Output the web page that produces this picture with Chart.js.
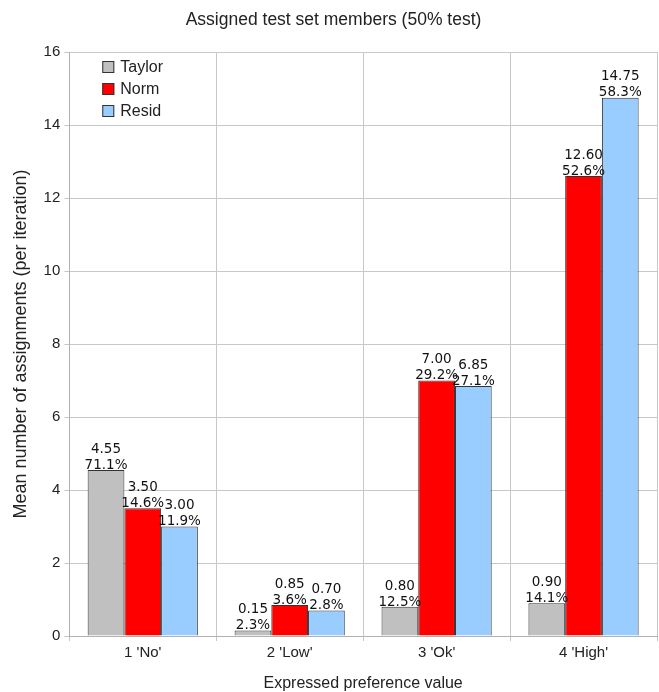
<!DOCTYPE html>
<html>
<head>
<meta charset="utf-8">
<script src="https://cdn.jsdelivr.net/npm/chart.js@4"></script>
<style>
  html, body { margin: 0; padding: 0; background: #fff; }
</style>
</head>
<body>
<canvas id="barChart" width="659" height="692"></canvas>
<script>
const categories = ["1 'No'", "2 'Low'", "3 'Ok'", "4 'High'"];
const taylor = [4.55, 0.15, 0.80, 0.90];
const norm = [3.50, 0.85, 7.00, 12.60];
const resid = [3.00, 0.70, 6.85, 14.75];
const taylorPct = [71.1, 2.3, 12.5, 14.1];
const normPct = [14.6, 3.6, 29.2, 52.6];
const residPct = [11.9, 2.8, 27.1, 58.3];

// Two-line value labels above each bar
const barLabels = {
    id: 'barLabels',
    afterDatasetsDraw(chart) {
        const c = chart.ctx;
        c.save();
        c.font = '13.5px "DejaVu Sans"';
        c.fillStyle = '#111';
        c.textAlign = 'center';
        c.textBaseline = 'bottom';
        chart.data.datasets.forEach((ds, i) => {
            chart.getDatasetMeta(i).data.forEach((bar, j) => {
                c.fillText(ds.pct[j].toFixed(1) + '%', bar.x, bar.y + 2);
                c.fillText(ds.data[j].toFixed(2), bar.x, bar.y - 14);
            });
        });
        c.restore();
    }
};

// Legend drawn inside the plot area, top-left
const innerLegend = {
    id: 'innerLegend',
    afterDraw(chart) {
        const c = chart.ctx;
        const x = chart.chartArea.left + 33;
        let y = chart.chartArea.top + 9;
        c.save();
        c.font = '16px "Liberation Sans"';
        c.textBaseline = 'middle';
        chart.data.datasets.forEach(ds => {
            c.fillStyle = ds.backgroundColor;
            c.fillRect(x, y, 12, 12);
            c.strokeStyle = '#333';
            c.lineWidth = 1;
            c.strokeRect(x + 0.5, y + 0.5, 11, 11);
            c.fillStyle = '#222';
            c.fillText(ds.label, x + 18, y + 7);
            y += 22;
        });
        c.restore();
    }
};

const ctx = document.getElementById('barChart').getContext('2d');
new Chart(ctx, {
    type: 'bar',
    data: {
        labels: categories,
        datasets: [
            { label: 'Taylor', data: taylor, pct: taylorPct, backgroundColor: '#c0c0c0' },
            { label: 'Norm', data: norm, pct: normPct, backgroundColor: '#ff0000' },
            { label: 'Resid', data: resid, pct: residPct, backgroundColor: '#99ccff' }
        ]
    },
    plugins: [barLabels, innerLegend],
    options: {
        responsive: false,
        animation: false,
        devicePixelRatio: 1,
        layout: { padding: { top: 10, right: 2, left: 10, bottom: 0 } },
        datasets: {
            bar: {
                borderColor: '#333',
                borderWidth: 1,
                categoryPercentage: 0.75,
                barPercentage: 1.0
            }
        },
        plugins: {
            legend: { display: false },
            tooltip: { enabled: false },
            title: {
                display: true,
                text: 'Assigned test set members (50% test)',
                color: '#222',
                font: { family: 'Liberation Sans', size: 17.5, weight: 'normal' },
                padding: { top: 0, bottom: 21 }
            }
        },
        scales: {
            x: {
                grid: { color: '#c8c8c8', offset: true, tickLength: 5 },
                border: { color: '#b0b0b0' },
                ticks: { color: '#222', font: { family: 'Liberation Sans', size: 15, lineHeight: 1 }, padding: 4 },
                title: {
                    display: true,
                    text: 'Expressed preference value',
                    color: '#222',
                    font: { family: 'Liberation Sans', size: 16, lineHeight: 1 },
                    padding: { top: 12, bottom: 0 }
                }
            },
            y: {
                min: 0,
                max: 16,
                ticks: { stepSize: 2, color: '#222', font: { family: 'Liberation Sans', size: 15 }, padding: 4 },
                grid: { color: '#c8c8c8', tickLength: 5 },
                border: { color: '#b0b0b0' },
                title: {
                    display: true,
                    text: 'Mean number of assignments (per iteration)',
                    color: '#222',
                    font: { family: 'Liberation Sans', size: 18 },
                    padding: { top: 0, bottom: 8 }
                }
            }
        }
    }
});
</script>
</body>
</html>
